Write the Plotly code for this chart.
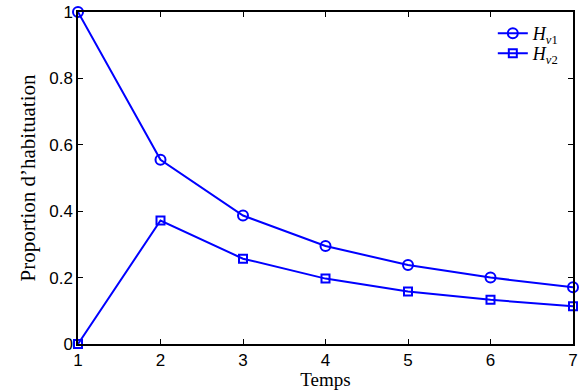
import plotly.graph_objects as go

temps = [1, 2, 3, 4, 5, 6, 7]
h_v1 = [1.0, 0.555, 0.387, 0.295, 0.238, 0.200, 0.171]
h_v2 = [0.0, 0.372, 0.257, 0.197, 0.158, 0.133, 0.114]
x_ticks = [1, 2, 3, 4, 5, 6, 7]
y_ticks = [0, 0.2, 0.4, 0.6, 0.8, 1]
y_tick_labels = ["0", "0.2", "0.4", "0.6", "0.8", "1"]

blue = "#0000FF"
fig = go.Figure()
fig.add_trace(go.Scatter(
    x=temps, y=h_v1, mode="lines+markers",
    name="<i>H</i><sub><i>v</i>1</sub>",
    line=dict(color=blue, width=2),
    marker=dict(symbol="circle-open", size=10, color=blue, line=dict(width=2)),
    cliponaxis=False, legend="legend",
))
fig.add_trace(go.Scatter(
    x=temps, y=h_v2, mode="lines+markers",
    name="<i>H</i><sub><i>v</i>2</sub>",
    line=dict(color=blue, width=2),
    marker=dict(symbol="square-open", size=8, color=blue, line=dict(width=2)),
    cliponaxis=False, legend="legend2",
))

axis_common = dict(
    showgrid=False, zeroline=False, showline=True, linecolor="black", linewidth=1.5,
    mirror="ticks", ticks="inside", ticklen=5, tickcolor="black",
    tickfont=dict(family="Liberation Sans, Arial", size=17, color="black"),
    ticklabeloverflow="allow",
)
fig.update_xaxes(range=[1, 7], tickvals=x_ticks, ticktext=[str(t) for t in x_ticks],
                 title=dict(text="Temps", font=dict(family="Liberation Serif", size=19, color="black"), standoff=0),
                 **axis_common)
fig.update_yaxes(range=[0, 1], tickvals=y_ticks, ticktext=y_tick_labels,
                 title=dict(text="Proportion d’habituation", font=dict(family="Liberation Serif", size=21, color="black"), standoff=8),
                 **axis_common)

legend_common = dict(xanchor="left", yanchor="middle", bgcolor="rgba(0,0,0,0)",
                     font=dict(family="Liberation Serif", size=18, color="black"),
                     itemwidth=30)
fig.update_layout(
    width=579, height=390,
    margin=dict(l=78, r=1, t=12, b=46),
    paper_bgcolor="white", plot_bgcolor="white",
    showlegend=True,
    legend=dict(x=0.838, y=0.935, **legend_common),
    legend2=dict(x=0.838, y=0.875, **legend_common),
)
fig.write_html("out.html")
